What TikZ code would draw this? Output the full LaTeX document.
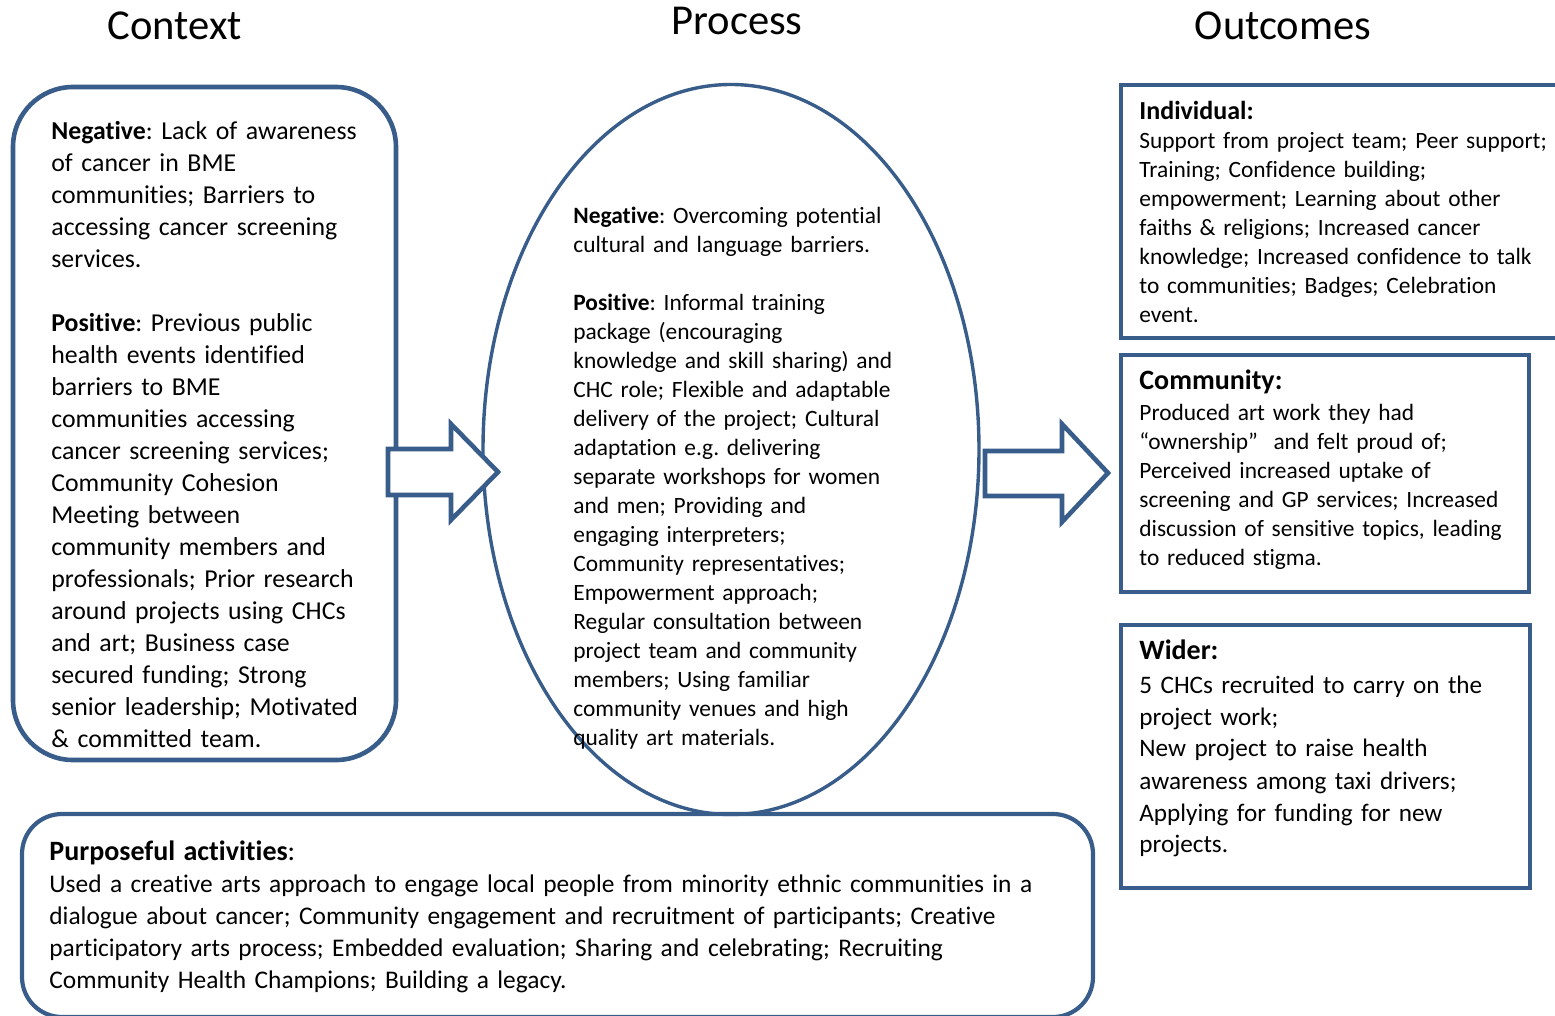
\documentclass[tikz,border=0pt]{standalone}
\usepackage{fontspec}
\setmainfont{Carlito}[Ligatures=TeX,RawFeature={-liga;-clig;-calt}]
\definecolor{bl}{RGB}{56,93,138}
\begin{document}
\frenchspacing
\begin{tikzpicture}[x=0.5pt,y=-0.5pt,
  frame/.style={draw=bl, line width=2.1pt},
  blockarrow/.style={draw=bl, line width=2.3pt, fill=white, line join=miter},
  title/.style={anchor=base, inner sep=0pt, font=\fontsize{21.3}{25}\selectfont},
  bigtxt/.style={anchor=base west, inner sep=0pt, align=left, text width=#1, font=\fontsize{12.9}{16}\selectfont\frenchspacing},
  smalltxt/.style={anchor=base west, inner sep=0pt, align=left, text width=#1, font=\fontsize{11.7}{14.5}\selectfont\frenchspacing}]
\useasboundingbox (0,0) rectangle (1555,1016);
% titles
\node[title] (tctx) at (175,40) {Context};
\node[title] (tproc) at (737,35) {Process};
\node[title] (tout) at (1283,40) {Outcomes};
% context box
\draw[frame, line width=2.3pt, rounded corners=30pt] (13,87) rectangle (396,760);
\node[bigtxt=170pt] (ctx) at (51,140) {\textbf{Negative}: Lack of awareness\\
of cancer in BME\\
communities; Barriers to\\
accessing cancer screening\\
services.\\[16pt]
\textbf{Positive}: Previous public\\
health events identified\\
barriers to BME\\
communities accessing\\
cancer screening services;\\
Community Cohesion\\
Meeting between\\
community members and\\
professionals; Prior research\\
around projects using CHCs\\
and art; Business case\\
secured funding; Strong\\
senior leadership; Motivated\\
\& committed team.};
% process ellipse
\draw[draw=bl, line width=1.7pt, fill=white] (731,449.5) ellipse [x radius=248, y radius=365];
\node[smalltxt=175pt] (proc) at (573,224) {\textbf{Negative}: Overcoming potential\\
cultural and language barriers.\\[14.5pt]
\textbf{Positive}: Informal training\\
package (encouraging\\
knowledge and skill sharing) and\\
CHC role; Flexible and adaptable\\
delivery of the project; Cultural\\
adaptation e.g. delivering\\
separate workshops for women\\
and men; Providing and\\
engaging interpreters;\\
Community representatives;\\
Empowerment approach;\\
Regular consultation between\\
project team and community\\
members; Using familiar\\
community venues and high\\
quality art materials.};
% block arrows
\coordinate (a1) at (388,449);
\draw[blockarrow] (a1) -- (451,449) -- (451,424) -- (498,472) -- (451,520) -- (451,495) -- (388,495) -- cycle;
\coordinate (a2) at (985,451);
\draw[blockarrow] (a2) -- (1062,451) -- (1062,424) -- (1108,473) -- (1062,522) -- (1062,496) -- (985,496) -- cycle;
% outcome boxes
\draw[frame] (1121,85) rectangle (1575,338);
\node[smalltxt=220pt] (ind) at (1139,120) {\textbf{\fontsize{13}{14.5}\selectfont Individual:}\\
Support from project team; Peer support;\\
Training; Confidence building;\\
empowerment; Learning about other\\
faiths \& religions; Increased cancer\\
knowledge; Increased confidence to talk\\
to communities; Badges; Celebration\\
event.};
\draw[frame] (1121,355) rectangle (1529,592);
\node[anchor=base west, inner sep=0pt, font=\fontsize{14}{16}\selectfont\bfseries] (comh) at (1139,390) {Community:};
\node[smalltxt=200pt] (com) at (1139,421) {Produced art work they had\\
“ownership”\ \ and felt proud of;\\
Perceived increased uptake of\\
screening and GP services; Increased\\
discussion of sensitive topics, leading\\
to reduced stigma.};
\draw[frame] (1121,625) rectangle (1530,888);
\node[anchor=base west, inner sep=0pt, font=\fontsize{14}{16}\selectfont\bfseries] (widh) at (1139,660) {Wider:};
\node[anchor=base west, inner sep=0pt, align=left, text width=200pt, font=\fontsize{12.6}{16}\selectfont\frenchspacing] (wid) at (1139,693) {5 CHCs recruited to carry on the\\
project work;\\
New project to raise health\\
awareness among taxi drivers;\\
Applying for funding for new\\
projects.};
% purposeful activities box
\draw[frame, rounded corners=20pt] (22,814) rectangle (1093,1017);
\node[anchor=base west, inner sep=0pt, align=left, text width=520pt, font=\fontsize{12.7}{16}\selectfont\frenchspacing] (pa) at (49,860) {{\fontsize{14}{16}\selectfont\textbf{Purposeful activities}:}\\
Used a creative arts approach to engage local people from minority ethnic communities in a\\
dialogue about cancer; Community engagement and recruitment of participants; Creative\\
participatory arts process; Embedded evaluation; Sharing and celebrating; Recruiting\\
Community Health Champions; Building a legacy.};
\end{tikzpicture}
\end{document}
